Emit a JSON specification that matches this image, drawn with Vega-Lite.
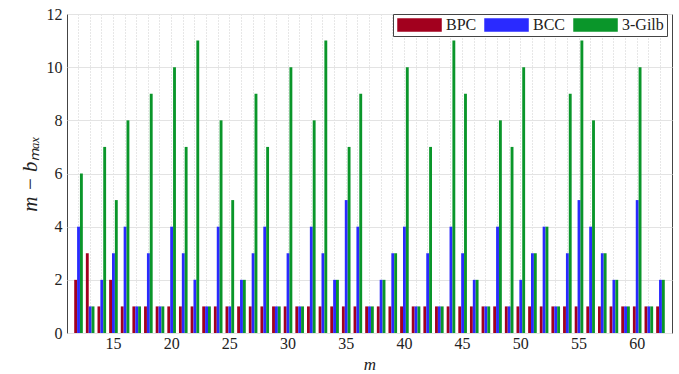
{
  "$schema": "https://vega.github.io/schema/vega-lite/v6.json",
  "autosize": "none",
  "width": 605,
  "height": 319,
  "padding": {"left": 67, "top": 14, "right": 7, "bottom": 41},
  "background": "white",
  "config": {
    "font": "Liberation Serif",
    "view": {"stroke": "#444", "strokeWidth": 1},
    "axis": {"labelFont": "Liberation Serif", "titleFont": "Liberation Serif", "labelFontSize": 16, "titleFontSize": 17, "titleFontWeight": "normal", "labelColor": "#222", "titleColor": "#222", "domain": false}
  },
  "data": {
    "values": [
      {"m":12,"BPC":2,"BCC":4,"3-Gilb":6},
      {"m":13,"BPC":3,"BCC":1,"3-Gilb":1},
      {"m":14,"BPC":1,"BCC":2,"3-Gilb":7},
      {"m":15,"BPC":2,"BCC":3,"3-Gilb":5},
      {"m":16,"BPC":1,"BCC":4,"3-Gilb":8},
      {"m":17,"BPC":1,"BCC":1,"3-Gilb":1},
      {"m":18,"BPC":1,"BCC":3,"3-Gilb":9},
      {"m":19,"BPC":1,"BCC":1,"3-Gilb":1},
      {"m":20,"BPC":1,"BCC":4,"3-Gilb":10},
      {"m":21,"BPC":1,"BCC":3,"3-Gilb":7},
      {"m":22,"BPC":1,"BCC":2,"3-Gilb":11},
      {"m":23,"BPC":1,"BCC":1,"3-Gilb":1},
      {"m":24,"BPC":1,"BCC":4,"3-Gilb":8},
      {"m":25,"BPC":1,"BCC":1,"3-Gilb":5},
      {"m":26,"BPC":1,"BCC":2,"3-Gilb":2},
      {"m":27,"BPC":1,"BCC":3,"3-Gilb":9},
      {"m":28,"BPC":1,"BCC":4,"3-Gilb":7},
      {"m":29,"BPC":1,"BCC":1,"3-Gilb":1},
      {"m":30,"BPC":1,"BCC":3,"3-Gilb":10},
      {"m":31,"BPC":1,"BCC":1,"3-Gilb":1},
      {"m":32,"BPC":1,"BCC":4,"3-Gilb":8},
      {"m":33,"BPC":1,"BCC":3,"3-Gilb":11},
      {"m":34,"BPC":1,"BCC":2,"3-Gilb":2},
      {"m":35,"BPC":1,"BCC":5,"3-Gilb":7},
      {"m":36,"BPC":1,"BCC":4,"3-Gilb":9},
      {"m":37,"BPC":1,"BCC":1,"3-Gilb":1},
      {"m":38,"BPC":1,"BCC":2,"3-Gilb":2},
      {"m":39,"BPC":1,"BCC":3,"3-Gilb":3},
      {"m":40,"BPC":1,"BCC":4,"3-Gilb":10},
      {"m":41,"BPC":1,"BCC":1,"3-Gilb":1},
      {"m":42,"BPC":1,"BCC":3,"3-Gilb":7},
      {"m":43,"BPC":1,"BCC":1,"3-Gilb":1},
      {"m":44,"BPC":1,"BCC":4,"3-Gilb":11},
      {"m":45,"BPC":1,"BCC":3,"3-Gilb":9},
      {"m":46,"BPC":1,"BCC":2,"3-Gilb":2},
      {"m":47,"BPC":1,"BCC":1,"3-Gilb":1},
      {"m":48,"BPC":1,"BCC":4,"3-Gilb":8},
      {"m":49,"BPC":1,"BCC":1,"3-Gilb":7},
      {"m":50,"BPC":1,"BCC":2,"3-Gilb":10},
      {"m":51,"BPC":1,"BCC":3,"3-Gilb":3},
      {"m":52,"BPC":1,"BCC":4,"3-Gilb":4},
      {"m":53,"BPC":1,"BCC":1,"3-Gilb":1},
      {"m":54,"BPC":1,"BCC":3,"3-Gilb":9},
      {"m":55,"BPC":1,"BCC":5,"3-Gilb":11},
      {"m":56,"BPC":1,"BCC":4,"3-Gilb":8},
      {"m":57,"BPC":1,"BCC":3,"3-Gilb":3},
      {"m":58,"BPC":1,"BCC":2,"3-Gilb":2},
      {"m":59,"BPC":1,"BCC":1,"3-Gilb":1},
      {"m":60,"BPC":1,"BCC":5,"3-Gilb":10},
      {"m":61,"BPC":1,"BCC":1,"3-Gilb":1},
      {"m":62,"BPC":1,"BCC":2,"3-Gilb":2}
    ]
  },
  "transform": [{"fold": ["BPC", "BCC", "3-Gilb"], "as": ["series", "value"]}],
  "mark": {"type": "bar", "stroke": null},
  "encoding": {
    "x": {
      "field": "m", "type": "ordinal",
      "scale": {"paddingInner": 0.26, "paddingOuter": 0.62},
      "axis": {
        "title": "m", "titleFontStyle": "italic", "titlePadding": 5,
        "labelAngle": 0, "labelPadding": 2,
        "labelExpr": "datum.value % 5 == 0 ? datum.value : ''",
        "ticks": false,
        "grid": true, "gridDash": [1, 2], "gridColor": "#cfcfcf", "gridWidth": 1
      }
    },
    "xOffset": {"field": "series", "type": "nominal", "sort": ["BPC", "BCC", "3-Gilb"]},
    "y": {
      "field": "value", "type": "quantitative",
      "scale": {"domain": [0, 12], "nice": false},
      "axis": {
        "title": "m − bₘₐₓ", "titleFontStyle": "italic", "titleFontSize": 21, "titlePadding": 6,
        "values": [0, 2, 4, 6, 8, 10, 12], "ticks": false, "labelPadding": 5,
        "grid": true, "gridColor": "#e3e3e3", "gridWidth": 1
      }
    },
    "color": {
      "field": "series", "type": "nominal",
      "scale": {"domain": ["BPC", "BCC", "3-Gilb"], "range": ["#a2001e", "#2a2aff", "#0a962a"]},
      "legend": {
        "title": null, "orient": "none", "legendX": 326, "legendY": 0,
        "direction": "horizontal",
        "symbolType": "M-1,-1H5.6V1H-1Z", "symbolSize": 182, "symbolStrokeWidth": 0,
        "labelFont": "Liberation Serif", "labelFontSize": 16, "labelColor": "#222",
        "labelOffset": 34, "columnPadding": 6,
        "strokeColor": "#444", "fillColor": "white", "padding": 3
      }
    }
  }
}
